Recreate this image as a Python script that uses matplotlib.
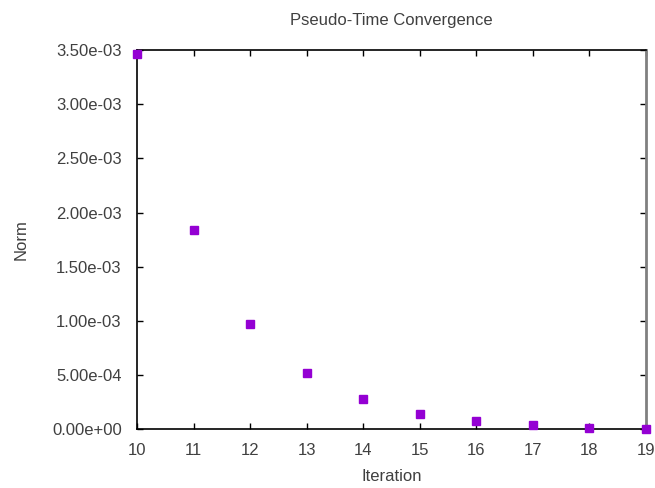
import numpy as np
import matplotlib
matplotlib.use('Agg')
import matplotlib.pyplot as plt
from matplotlib.ticker import FuncFormatter

iteration = [10, 11, 12, 13, 14, 15, 16, 17, 18, 19]
norm = [3.46e-3, 1.835e-3, 0.975e-3, 0.52e-3, 0.28e-3, 0.144e-3,
        0.074e-3, 0.037e-3, 0.009e-3, 0.005e-3]

plt.rcParams['font.family'] = ['Liberation Sans', 'DejaVu Sans']
TXT = '#404040'

fig = plt.figure(figsize=(6.55, 4.88), dpi=100)
ax = fig.add_axes([0.2092, 0.1203, 0.7771, 0.7772])

ax.plot(iteration, norm, 's', color='#9400d3', markersize=6, clip_on=False, zorder=3)

ax.set_xlim(10, 19)
ax.set_ylim(0, 3.5e-3)
ax.set_xticks(np.arange(10, 20))
ax.set_yticks(np.arange(0, 3.51e-3, 0.5e-3))
ax.yaxis.set_major_formatter(FuncFormatter(lambda v, p: '%.2e' % v))
ax.tick_params(direction='in', top=True, right=True, length=4, width=1,
               labelsize=12, labelcolor=TXT)
ax.tick_params(axis='x', pad=10)
ax.tick_params(axis='y', pad=11)
for s in ax.spines.values():
    s.set_linewidth(1.2)
ax.spines['right'].set_color('#808080')
ax.spines['right'].set_linewidth(2)

ax.set_title('Pseudo-Time Convergence', fontsize=12, color=TXT, pad=18)
ax.set_xlabel('Iteration', fontsize=12, color=TXT, labelpad=8)
ax.set_ylabel('Norm', fontsize=12, color=TXT, labelpad=17)

fig.savefig('out.png', dpi=100)
